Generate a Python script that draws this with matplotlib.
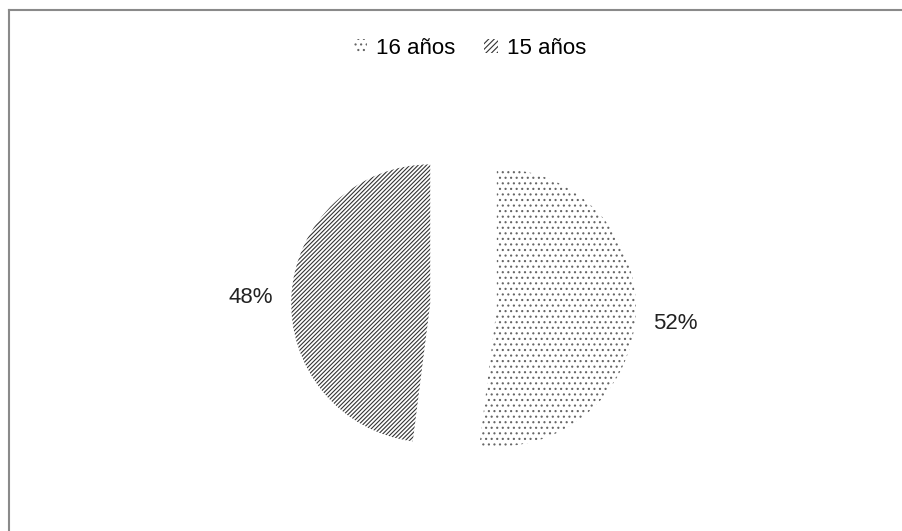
import matplotlib

matplotlib.use("Agg")
import matplotlib.pyplot as plt
import matplotlib.patches as mpatches
import matplotlib.transforms as mtransforms
from matplotlib.lines import Line2D

labels = ["16 años", "15 años"]
shares = [52, 48]
hatches = ["...", "////////"]
pct_labels = ["52%", "48%"]

plt.rcParams["font.family"] = ["Liberation Sans", "DejaVu Sans"]
plt.rcParams["hatch.linewidth"] = 0.8

W, H, dpi = 903, 531, 100
fig = plt.figure(figsize=(W / dpi, H / dpi), dpi=dpi)
ax = fig.add_axes([0, 0, 1, 1])

wedges, texts = ax.pie(
    shares,
    startangle=90,
    counterclock=False,
    explode=[0.24, 0.24],
    radius=1.0,
    labels=pct_labels,
    labeldistance=1.29,
    colors=["white", "white"],
    wedgeprops=dict(linewidth=0),
    textprops=dict(fontsize=16, color="#222222"),
)
hatch_colors = ["#666666", "#333333"]
for w, h, c in zip(wedges, hatches, hatch_colors):
    w.set_hatch(h)
    w.set_edgecolor(c)
    w.set_linewidth(0)
# labels sit a touch lower than the pure radial position
nudge = mtransforms.ScaledTranslation(0, -5 / dpi, fig.dpi_scale_trans)
for t in texts:
    t.set_ha("center")
    t.set_va("center")
    t.set_transform(t.get_transform() + nudge)

# pie radius 139 px, original centre at (463.5, 305.5) px from top-left
r = 139.0
cx, cy = 463.5, 305.5
ax.set_aspect("auto")
ax.set_xlim(-cx / r, (W - cx) / r)
ax.set_ylim(-(H - cy) / r, cy / r)
ax.axis("off")

handles = [
    mpatches.Patch(facecolor="white", edgecolor=c, hatch=h, linewidth=0, label=l)
    for l, h, c in zip(labels, ["...", "//////"], hatch_colors)
]
ax.legend(
    handles=handles,
    loc="center",
    bbox_to_anchor=(470 / W, 1 - 48 / H),
    bbox_transform=fig.transFigure,
    ncol=2,
    frameon=False,
    fontsize=16,
    handlelength=0.6,
    handleheight=0.6,
    handletextpad=0.4,
    columnspacing=1.3,
)

# chart border (top and left edges visible)
fig.add_artist(Line2D([9.5 / W, 9.5 / W], [0, 1 - 9.5 / H], transform=fig.transFigure, color="#8a8a8a", lw=1.5))
fig.add_artist(Line2D([9.5 / W, 1], [1 - 9.5 / H, 1 - 9.5 / H], transform=fig.transFigure, color="#8a8a8a", lw=1.5))

fig.savefig("out.png", dpi=dpi, facecolor="white")
